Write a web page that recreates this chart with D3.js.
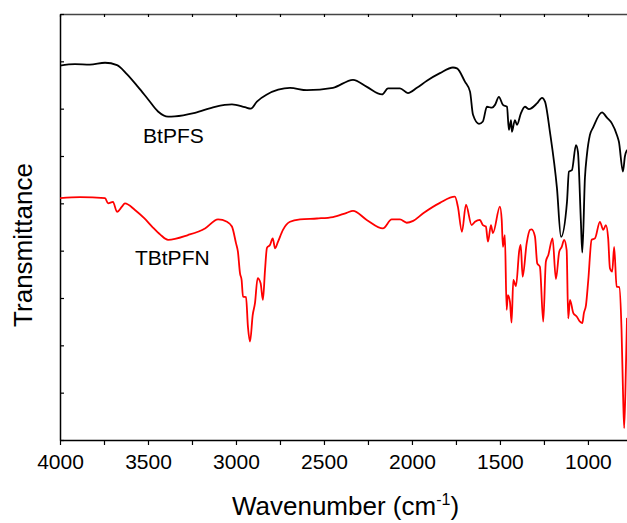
<!DOCTYPE html>
<html>
<head>
<meta charset="utf-8">
<script src="https://cdn.jsdelivr.net/npm/d3@7"></script>
<style>
  body { margin: 0; background: #fff; }
  svg { font-family: "Liberation Sans", Arial, sans-serif; }
</style>
</head>
<body>
<div id="chart"></div>
<script>
// wavenumber (cm-1) and transmittance (arbitrary units, offset traces)
var btpfsWave = [4000, 3915, 3830, 3744, 3676, 3620, 3557, 3500, 3443, 3386, 3300, 3233, 3119, 3023, 2949, 2916, 2881, 2824,
  2760, 2693, 2597, 2449, 2335, 2256, 2170, 2136, 2068, 2023, 1972, 1915, 1841, 1767, 1744, 1699, 1670, 1653,
  1619, 1597, 1574, 1545, 1528, 1506, 1483, 1460, 1449, 1437, 1432, 1415, 1403, 1381, 1358, 1335, 1290,
  1261, 1244, 1216, 1176, 1153, 1119, 1108, 1091, 1068, 1057, 1040, 1032, 1017, 1006, 989, 971, 920,
  892, 864, 835, 824, 801, 790, 778];
var btpfsT = [79.1, 79.4, 79.3, 79.7, 79.2, 77.3, 74.6, 72.0, 69.4, 68.3, 68.6, 69.1, 70.4, 70.9, 70.3, 70.0, 71.5, 73.0,
  74.0, 74.4, 73.9, 74.4, 76.1, 74.6, 73.0, 74.3, 74.3, 73.3, 74.4, 75.9, 77.5, 78.7, 78.5, 75.7, 73.6, 68.7,
  66.8, 67.3, 70.4, 70.2, 70.8, 72.5, 70.8, 70.4, 65.5, 67.6, 65.1, 67.6, 66.6, 69.0, 70.4, 69.9, 71.1,
  72.3, 71.5, 65.1, 53.2, 42.9, 50.3, 56.7, 57.0, 62.3, 60.9, 46.1, 39.6, 55.4, 60.2, 64.4, 66.0, 69.2,
  68.1, 66.9, 64.4, 63.0, 56.7, 59.9, 61.3];

var tbtpfnWave = [4000, 3886, 3744, 3727, 3699, 3676, 3648, 3631, 3574, 3520, 3477, 3430, 3386, 3273, 3176, 3102, 3051,
  3023, 3000, 2989, 2977, 2968, 2960, 2943, 2932, 2920, 2905, 2892, 2877, 2860, 2847, 2835, 2824, 2807,
  2791, 2778, 2761, 2733, 2693, 2636, 2540, 2449, 2371, 2335, 2257, 2165, 2115, 2068, 2030, 1993, 1936,
  1841, 1756, 1739, 1716, 1693, 1661, 1642, 1614, 1597, 1580, 1568, 1551, 1540, 1500, 1490, 1483, 1472,
  1462, 1455, 1443, 1434, 1424, 1409, 1390, 1382, 1371, 1348, 1329, 1320, 1301, 1288, 1273, 1254, 1239,
  1225, 1201, 1182, 1163, 1149, 1135, 1121, 1112, 1102, 1083, 1064, 1045, 1032, 1023, 1011, 998, 979,
  960, 932, 913, 898, 885, 875, 862, 851, 837, 822, 809, 800, 794, 784, 778];
var tbtpfnT = [51.1, 51.3, 51.1, 50.0, 50.3, 48.2, 49.3, 50.0, 48.6, 46.8, 45.1, 43.4, 42.3, 43.3, 44.7, 46.6, 46.1,
  45.1, 41.6, 39.8, 35.2, 33.8, 30.3, 30.2, 23.9, 20.8, 26.4, 28.9, 34.2, 33.1, 29.6, 35.9, 40.6, 41.2,
  42.6, 40.5, 41.9, 44.4, 46.1, 46.6, 46.8, 47.1, 48.0, 48.4, 46.5, 44.7, 46.6, 46.6, 45.9, 46.3, 47.9,
  50.1, 51.4, 49.3, 44.0, 49.7, 45.4, 46.1, 46.5, 45.4, 45.1, 41.9, 45.4, 43.7, 49.3, 46.5, 40.8, 43.3,
  27.5, 30.6, 29.2, 24.8, 33.8, 32.5, 40.1, 41.2, 34.5, 41.6, 44.4, 44.5, 43.0, 37.3, 36.6, 25.0, 37.7,
  39.1, 42.6, 34.0, 39.8, 40.8, 42.3, 40.1, 25.7, 29.6, 26.8, 26.1, 25.0, 24.7, 26.8, 28.5, 33.8, 42.3,
  42.6, 46.1, 44.4, 45.4, 42.6, 36.3, 35.6, 40.8, 32.4, 32.3, 23.2, 9.1, 2.5, 15.5, 25.8];

var xTicks = [4000, 3750, 3500, 3250, 3000, 2750, 2500, 2250, 2000, 1750, 1500, 1250, 1000, 750];
var yTicks = [0, 10, 20, 30, 40, 50, 60, 70, 80, 90];
var seriesNames = ["BtPFS", "TBtPFN"];

var W = 627, H = 523;
var margin = { top: 14, right: 0, bottom: 83, left: 60 },
    width = W - margin.left - margin.right,
    height = H - margin.top - margin.bottom;

var x = d3.scaleLinear().domain([4000, 778]).range([0, width]);
var y = d3.scaleLinear().domain([0, 90]).range([height, 0]);

var svg = d3.select("#chart").append("svg")
    .attr("width", W)
    .attr("height", H)
    .append("g")
    .attr("transform", "translate(" + margin.left + "," + margin.top + ")");

svg.append("clipPath").attr("id", "clip")
    .append("rect").attr("x", 0).attr("y", 0).attr("width", width).attr("height", height);

// bottom axis
var xAxis = d3.axisBottom(x)
    .tickValues(xTicks)
    .tickSizeInner(5)
    .tickSizeOuter(0)
    .tickPadding(9)
    .tickFormat(function (d) { return d % 500 === 0 ? d : ""; });
var gx = svg.append("g")
    .attr("class", "x axis")
    .attr("transform", "translate(0," + height + ")")
    .call(xAxis);
gx.selectAll("text").style("font-size", "21px").style("fill", "#000");

// top axis (ticks inward, no labels)
svg.append("g")
    .attr("class", "top axis")
    .call(d3.axisTop(x).tickValues(xTicks).tickSizeInner(-3).tickSizeOuter(0).tickFormat(""));

// left axis (ticks inward, no labels)
svg.append("g")
    .attr("class", "y axis")
    .call(d3.axisLeft(y).tickValues(yTicks).tickSizeInner(-4).tickSizeOuter(0).tickFormat(""));

svg.selectAll(".axis path").style("stroke", "#000").style("stroke-width", "1.5px");
svg.selectAll(".top.axis path").style("stroke", "#444").style("stroke-width", "1.3px");
svg.selectAll(".axis line").style("stroke", "#000").style("stroke-width", "1.2px");

// axis titles
var xt = svg.append("text")
    .attr("x", width / 2 + 2)
    .attr("y", height + 75)
    .attr("text-anchor", "middle")
    .style("font-size", "26px")
    .style("fill", "#000");
xt.append("tspan").text("Wavenumber (cm");
xt.append("tspan").attr("dy", "-10").style("font-size", "16px").text("-1");
xt.append("tspan").attr("dy", "10").text(")");

svg.append("text")
    .attr("transform", "rotate(-90)")
    .attr("x", -(245 - margin.top))
    .attr("y", 32 - margin.left)
    .attr("text-anchor", "middle")
    .style("font-size", "26px")
    .style("fill", "#000")
    .text("Transmittance");

// spectra
var line = d3.line()
    .curve(d3.curveMonotoneX)
    .x(function (d) { return x(d[0]); })
    .y(function (d) { return y(d[1]); });

var traces = [
  { name: seriesNames[0], color: "#000", data: d3.zip(btpfsWave, btpfsT), lx: 3528, ly: 62.7 },
  { name: seriesNames[1], color: "#ff0000", data: d3.zip(tbtpfnWave, tbtpfnT), lx: 3574, ly: 37.0 }
];

traces.forEach(function (t) {
  svg.append("path")
      .datum(t.data)
      .attr("class", "line")
      .attr("clip-path", "url(#clip)")
      .attr("fill", "none")
      .attr("d", line)
      .style("stroke", t.color)
      .style("stroke-width", "1.8px")
      .style("stroke-linejoin", "round");
  svg.append("text")
      .attr("x", x(t.lx))
      .attr("y", y(t.ly))
      .style("font-size", "21px")
      .style("fill", "#000")
      .text(t.name);
});
</script>
</body>
</html>
